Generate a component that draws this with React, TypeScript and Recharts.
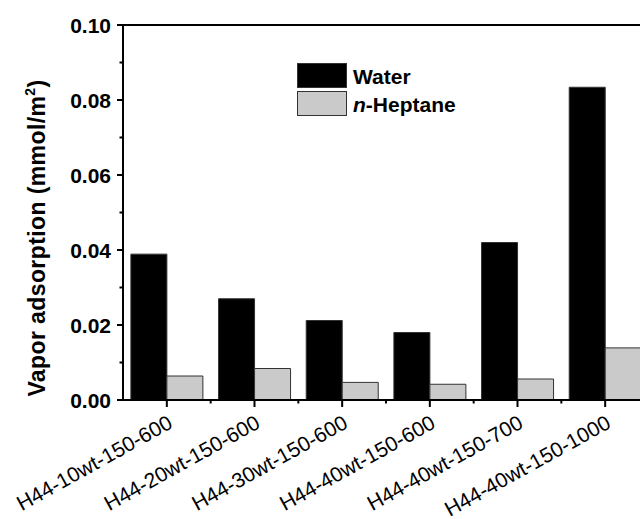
import { Bar, BarChart, ReferenceLine, XAxis, YAxis } from "recharts"

const samples = [
  "H44-10wt-150-600",
  "H44-20wt-150-600",
  "H44-30wt-150-600",
  "H44-40wt-150-600",
  "H44-40wt-150-700",
  "H44-40wt-150-1000",
]
const water = [0.0389, 0.027, 0.0212, 0.018, 0.042, 0.0834]
const heptane = [0.0064, 0.0084, 0.0047, 0.0042, 0.0056, 0.0139]
const yTicks = [0, 0.01, 0.02, 0.03, 0.04, 0.05, 0.06, 0.07, 0.08, 0.09, 0.1]

const data = samples.map((name, i) => ({ name, water: water[i], heptane: heptane[i] }))

const FONT = '"Liberation Sans", Arial, sans-serif'

function YTick(props: any) {
  const { x, y, payload, index } = props
  const major = index % 2 === 0
  return (
    <g>
      <line x1={x - (major ? 6 : 3.5)} x2={x} y1={y} y2={y} stroke="#000" strokeWidth={2} />
      {major && (
        <text x={x - 12} y={y} dy={7.5} textAnchor="end" fontSize={21} fontWeight="bold" fontFamily={FONT} fill="#000">
          {payload.value.toFixed(2)}
        </text>
      )}
    </g>
  )
}

function XTick(props: any) {
  const { x, y, payload } = props
  const half = payload.offset || 43.8
  const tx = x + 7
  const ty = y + 27
  return (
    <g>
      <line x1={x} x2={x} y1={y} y2={y + 7} stroke="#000" strokeWidth={2} />
      <line x1={x + half} x2={x + half} y1={y} y2={y + 3.5} stroke="#000" strokeWidth={2} />
      <text
        x={tx}
        y={ty}
        textAnchor="end"
        fontSize={21}
        fontFamily={FONT}
        fill="#000"
        transform={`rotate(-29, ${tx}, ${ty})`}
      >
        {payload.value}
      </text>
    </g>
  )
}

function LegendBox() {
  return (
    <svg width={200} height={60} style={{ overflow: "visible", display: "block" }}>
      <rect x={0.5} y={0.5} width={49} height={24} fill="#000" stroke="#333" />
      <text x={56} y={21} fontSize={21} fontWeight="bold" fontFamily={FONT} fill="#000">
        Water
      </text>
      <rect x={0.5} y={28.5} width={49} height={24} fill="#cacaca" stroke="#333" />
      <text x={56} y={49} fontSize={21} fontWeight="bold" fontFamily={FONT} fill="#000">
        <tspan fontStyle="italic">n</tspan>-Heptane
      </text>
    </svg>
  )
}

function YTitle() {
  return (
    <svg width={90} height={519} style={{ display: "block" }}>
      <text
        x={45}
        y={238}
        transform="rotate(-90, 45, 238)"
        textAnchor="middle"
        fontSize={23}
        letterSpacing={0.4}
        fontWeight="bold"
        fontFamily={FONT}
        fill="#000"
      >
        Vapor adsorption (mmol/m<tspan dy={-10} fontSize={14}>2</tspan>
        <tspan dy={10}>)</tspan>
      </text>
    </svg>
  )
}

export default function App() {
  return (
    <div style={{ position: "fixed", left: 0, top: 0, width: 640, height: 519, overflow: "hidden", background: "#fff" }}>
      <BarChart
        width={670}
        height={519}
        data={data}
        margin={{ top: 25, right: 21, left: 0, bottom: 0 }}
        barCategoryGap="9%"
        barGap={0}
      >
        <XAxis
          dataKey="name"
          height={119}
          interval={0}
          tickSize={0}
          tickMargin={0}
          tick={<XTick />}
          axisLine={{ stroke: "#000", strokeWidth: 2 }}
        />
        <YAxis
          width={123}
          domain={[0, 0.1]}
          ticks={yTicks}
          interval={0}
          tickSize={0}
          tickMargin={0}
          tick={<YTick />}
          axisLine={{ stroke: "#000", strokeWidth: 2 }}
        />
        <ReferenceLine y={0.1} stroke="#000" strokeWidth={2} />
        <Bar dataKey="water" name="Water" fill="#000" stroke="#333" strokeWidth={1} isAnimationActive={false} />
        <Bar dataKey="heptane" name="n-Heptane" fill="#cacaca" stroke="#333" strokeWidth={1} isAnimationActive={false} />
      </BarChart>
      <div style={{ position: "absolute", left: 0, top: 0 }}>
        <YTitle />
      </div>
      <div style={{ position: "absolute", left: 297, top: 63 }}>
        <LegendBox />
      </div>
    </div>
  )
}
